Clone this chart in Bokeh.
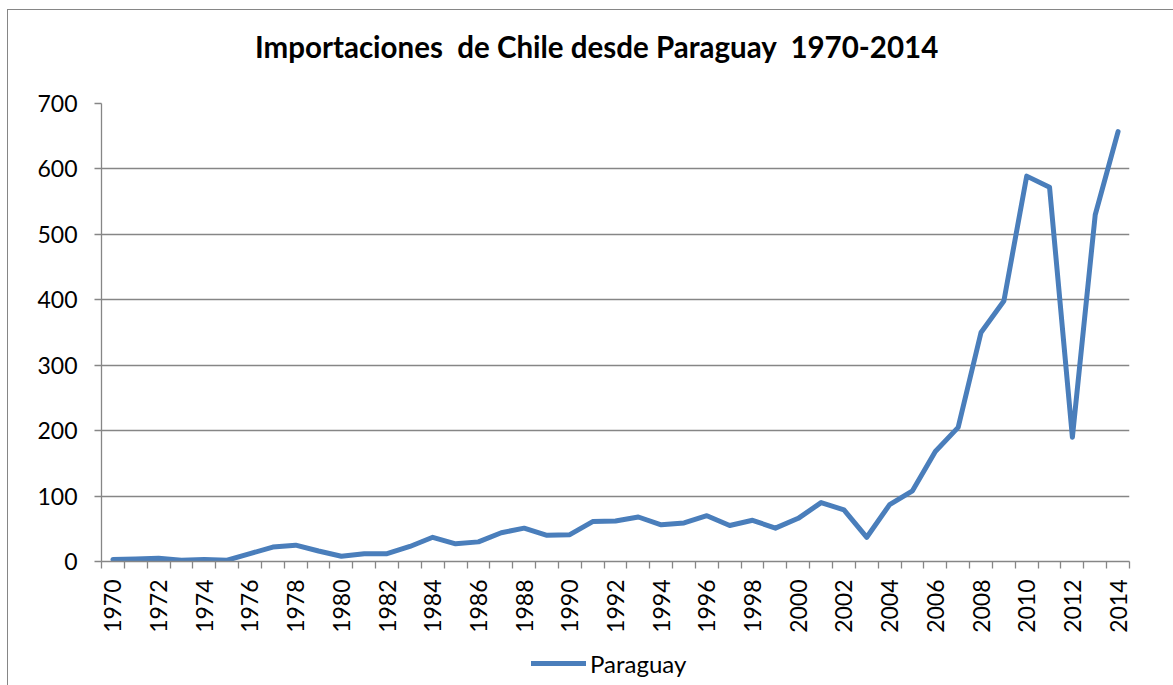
import math
from bokeh.plotting import figure
from bokeh.models import FixedTicker, Legend, LegendItem, ColumnDataSource, Label
from bokeh.layouts import column
from bokeh.embed import file_html
from bokeh.resources import INLINE

years = list(range(1970, 2015))
paraguay = [3, 4, 5, 2, 3, 2, 12, 22, 25, 16, 8, 12, 12, 23, 37, 27, 30, 44, 51, 40,
            41, 61, 62, 68, 56, 59, 70, 55, 63, 51, 66, 90, 79, 37, 87, 108, 168, 205,
            350, 398, 589, 572, 190, 530, 657]
y_ticks = [0, 100, 200, 300, 400, 500, 600, 700]
x_label_years = list(range(1970, 2015, 2))
title_text = "Importaciones \u00a0de Chile desde Paraguay \u00a01970-2014"
series_name = "Paraguay"

FONT = "Lato"
GREY = "#868686"
BLUE = "#4A7EBB"
W = 1165

src = ColumnDataSource(dict(year=years, value=paraguay))

# ---- title strip (frame aligned with main chart frame; x in page pixels) ----
t_fig = figure(width=W, height=78, output_backend="svg", toolbar_location=None,
               x_range=(101, 1129), y_range=(0, 78), x_axis_type=None, y_axis_type=None,
               min_border=0, outline_line_color=None)
t_fig.grid.visible = False
t_fig.add_layout(Label(x=596.5, y=42, text=title_text, text_align="center",
                       text_baseline="alphabetic", text_font=FONT,
                       text_font_style="bold", text_font_size="29.5px",
                       text_color="black"))

# ---- main chart ----
p = figure(width=W, height=547, output_backend="svg", toolbar_location=None,
           x_range=(years[0] - 0.5, years[-1] + 0.5), y_range=(0, 700),
           min_border_left=93, min_border_right=44, min_border_top=15, min_border_bottom=74,
           background_fill_color="white", border_fill_color="white")
p.outline_line_color = None

r = p.line("year", "value", source=src, line_color=BLUE, line_width=5,
           line_join="round", line_cap="round")

p.yaxis.ticker = FixedTicker(ticks=y_ticks)
p.yaxis.axis_line_color = GREY
p.yaxis.axis_line_width = 1.3
p.yaxis.major_tick_line_color = GREY
p.yaxis.major_tick_line_width = 1.3
p.yaxis.major_tick_out = 7
p.yaxis.major_tick_in = 0
p.yaxis.minor_tick_line_color = None
p.yaxis.major_label_standoff = 17
p.yaxis.major_label_text_font = FONT
p.yaxis.major_label_text_font_size = "23px"
p.yaxis.major_label_text_color = "black"

boundaries = [y - 0.5 for y in years] + [years[-1] + 0.5]
p.xaxis.ticker = FixedTicker(ticks=x_label_years, minor_ticks=boundaries)
p.xaxis.axis_line_color = GREY
p.xaxis.axis_line_width = 1.3
p.xaxis.major_tick_line_color = None
p.xaxis.major_tick_out = 7
p.xaxis.major_tick_in = 0
p.xaxis.minor_tick_line_color = GREY
p.xaxis.minor_tick_line_width = 1.3
p.xaxis.minor_tick_out = 7
p.xaxis.minor_tick_in = 0
p.xaxis.major_label_orientation = math.pi / 2
p.xaxis.major_label_standoff = 11
p.xaxis.major_label_text_font = FONT
p.xaxis.major_label_text_font_size = "23px"
p.xaxis.major_label_text_color = "black"

p.xgrid.grid_line_color = None
p.ygrid.ticker = FixedTicker(ticks=y_ticks)
p.ygrid.grid_line_color = GREY
p.ygrid.grid_line_width = 1.3

# ---- legend strip (series drawn off-range, only its legend entry shows) ----
l_fig = figure(width=W, height=50, output_backend="svg", toolbar_location=None,
               x_range=(101, 1129), y_range=(-50, 0), x_axis_type=None, y_axis_type=None,
               min_border=0, outline_line_color=None)
l_fig.grid.visible = False
lr = l_fig.line("year", "value", source=src, line_color=BLUE, line_width=5,
                line_cap="round")
legend = Legend(items=[LegendItem(label=series_name, renderers=[lr])],
                location=(430, 7), orientation="horizontal",
                padding=0, margin=0, spacing=0, glyph_width=55, glyph_height=30,
                label_height=30, label_standoff=4,
                label_text_font=FONT, label_text_font_size="24px",
                label_text_color="black",
                border_line_color=None, background_fill_alpha=0)
l_fig.add_layout(legend)

layout = column(t_fig, p, l_fig, spacing=0)
layout.styles = {"border-top": "1px solid #868686", "border-left": "1px solid #868686",
                 "margin-left": "7px", "margin-top": "9px"}

open("out.html", "w").write(file_html(layout, INLINE))
